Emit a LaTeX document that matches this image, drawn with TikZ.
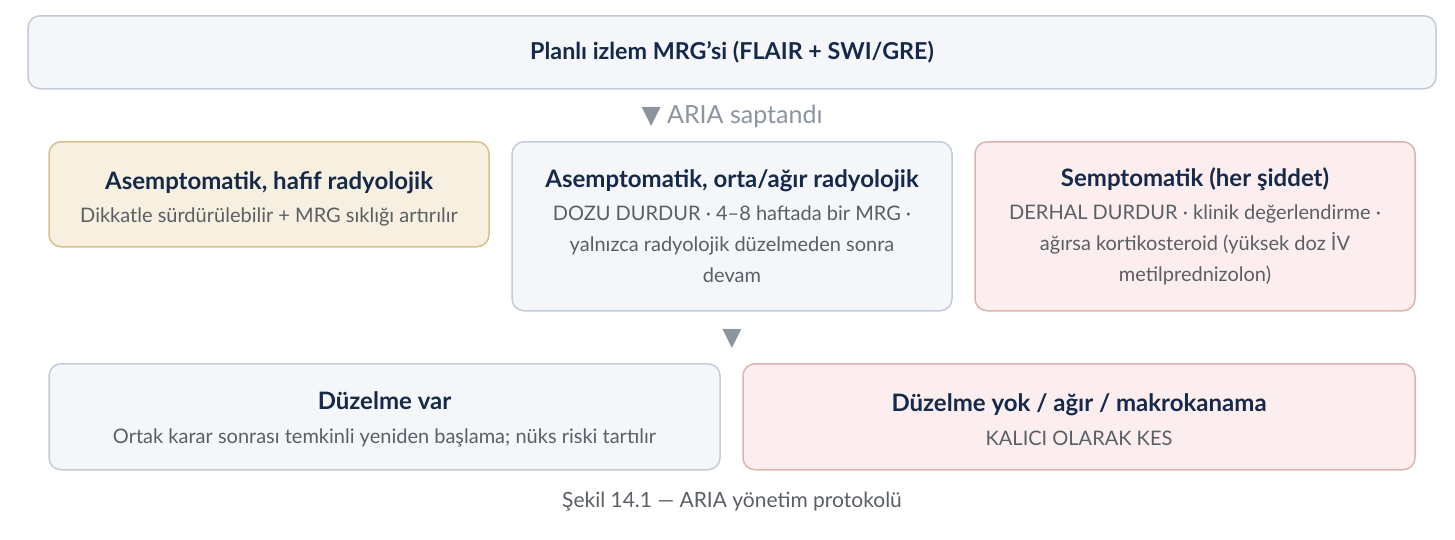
\documentclass[tikz,border=0pt]{standalone}
\usepackage{fontspec}
\setmainfont{Lato}
\newfontfamily\symbolfont{DejaVu Sans}
\usetikzlibrary{positioning}

\definecolor{navytext}{HTML}{15294A}
\definecolor{bodytext}{HTML}{5A5F66}
\definecolor{steptext}{HTML}{8C959F}
\definecolor{neutralfill}{HTML}{F4F6FA}
\definecolor{neutraldraw}{HTML}{C3CCD8}
\definecolor{mildfill}{HTML}{F7EFDF}
\definecolor{milddraw}{HTML}{D8C08A}
\definecolor{alertfill}{HTML}{FCEEEE}
\definecolor{alertdraw}{HTML}{DDB3AE}

\newcommand{\cardtitle}[1]{{\fontsize{24}{31}\selectfont\bfseries\color{navytext}#1}}

\tikzset{
  card/.style={rounded corners=12pt, line width=1.5pt, align=center,
    inner sep=0pt, anchor=north, text=bodytext,
    font=\fontsize{20}{31}\selectfont},
  neutral/.style={card, fill=neutralfill, draw=neutraldraw},
  mild/.style={card, fill=mildfill, draw=milddraw},
  alert/.style={card, fill=alertfill, draw=alertdraw},
  steplabel/.style={text=steptext, font=\fontsize{25}{28}\selectfont}
}

\begin{document}
\begin{tikzpicture}[x=1pt,y=-1pt]

  \useasboundingbox (0,0) rectangle (1455,539);

  % top
  \node (scan) [neutral, minimum width=1408pt, minimum height=73pt] at (732,15)
    {{\fontsize{23.3}{28}\selectfont\bfseries\color{navytext}Planlı izlem MRG’si (FLAIR + SWI/GRE)}};

  \node (found) [steplabel] at (732,116) {{\symbolfont ▼} ARIA saptandı};

  % severity
  \node (mildcase) [mild, minimum width=440pt, minimum height=105pt] at (269,141)
    {\cardtitle{\rule{0pt}{27pt}Asemptomatik, hafif radyolojik}\\[2pt]
     Dikkatle sürdürülebilir + MRG sıklığı artırılır};
  \node (severecase) [neutral, minimum width=440pt, minimum height=169pt] at (732,141)
    {\cardtitle{Asemptomatik, orta/ağır radyolojik}\\[2pt]
     DOZU DURDUR · 4–8 haftada bir MRG ·\\
     yalnızca radyolojik düzelmeden sonra\\
     devam};
  \node (sympcase) [alert, minimum width=440pt, minimum height=169pt] at (1195,141)
    {\cardtitle{Semptomatik (her şiddet)}\\[2pt]
     DERHAL DURDUR · klinik değerlendirme ·\\
     ağırsa kortikosteroid (yüksek doz İV\\
     metilprednizolon)};

  \node (next) [steplabel] at (732,339) {\symbolfont ▼};

  % outcome
  \node (resolved) [neutral, minimum width=671pt, minimum height=106pt] at (384.5,363)
    {\cardtitle{\rule{0pt}{24pt}Düzelme var}\\[3pt]
     Ortak karar sonrası temkinli yeniden başlama; nüks riski tartılır};
  \node (stopped) [alert, minimum width=672pt, minimum height=106pt] at (1079,363)
    {\cardtitle{\rule{0pt}{24pt}Düzelme yok / ağır / makrokanama}\\[3pt]
     KALICI OLARAK KES};

  \node (caption) [text=bodytext, font=\fontsize{21}{24}\selectfont] at (732,502)
    {Şekil 14.1 — ARIA yönetim protokolü};

\end{tikzpicture}
\end{document}
